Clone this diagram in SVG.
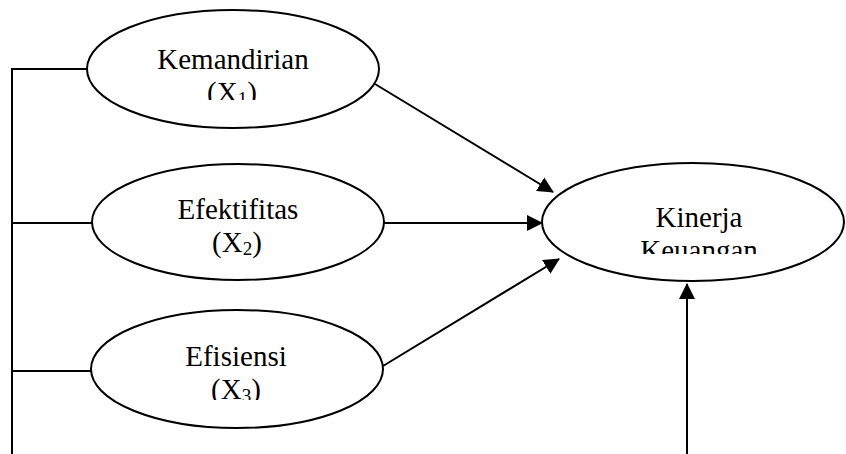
<svg xmlns="http://www.w3.org/2000/svg" width="846" height="454" viewBox="0 0 846 454">
  <style>
    .node ellipse { fill: #fff; stroke: #000; stroke-width: 2; }
    .lbl { font-family: "Liberation Serif", "Times New Roman", serif; font-size: 29px; fill: #000; text-anchor: middle; }
    .sub { font-size: 19px; }
    .wire { fill: none; stroke: #000; stroke-width: 2; }
    .arrow { marker-end: url(#head); }
  </style>
  <defs>
    <marker id="head" markerWidth="16" markerHeight="16" viewBox="0 0 16 16" refX="15" refY="8" orient="auto" markerUnits="userSpaceOnUse">
      <path d="M0,0 L16,8 L0,16 Z" fill="#000"/>
    </marker>
    <clipPath id="clipX1"><rect x="0" y="0" width="846" height="100"/></clipPath>
    <clipPath id="clipX3"><rect x="0" y="300" width="846" height="100"/></clipPath>
    <clipPath id="clipY"><rect x="500" y="150" width="346" height="104"/></clipPath>
  </defs>

  <g id="connectors">
    <path class="wire" d="M12,454 L12,69 L87,69"/>
    <path class="wire" d="M12,223 L92,223"/>
    <path class="wire" d="M12,371 L91,371"/>
    <line class="wire arrow" x1="375" y1="84" x2="553" y2="192"/>
    <line class="wire arrow" x1="384" y1="223" x2="542" y2="223"/>
    <line class="wire arrow" x1="383" y1="366" x2="559" y2="259"/>
    <line class="wire arrow" x1="687" y1="454" x2="687" y2="284"/>
  </g>

  <g id="kemandirian" class="node">
    <ellipse cx="233" cy="69" rx="146" ry="59"/>
    <text class="lbl" x="233" y="69">Kemandirian</text>
    <text class="lbl" x="232" y="102" clip-path="url(#clipX1)">(X<tspan class="sub" dy="3">1</tspan><tspan dy="-3">)</tspan></text>
  </g>

  <g id="efektifitas" class="node">
    <ellipse cx="238" cy="222" rx="146" ry="58"/>
    <text class="lbl" x="238" y="219">Efektifitas</text>
    <text class="lbl" x="237" y="252">(X<tspan class="sub" dy="3">2</tspan><tspan dy="-3">)</tspan></text>
  </g>

  <g id="efisiensi" class="node">
    <ellipse cx="237" cy="369" rx="146" ry="59"/>
    <text class="lbl" x="236" y="366">Efisiensi</text>
    <text class="lbl" x="236" y="399" clip-path="url(#clipX3)">(X<tspan class="sub" dy="3">3</tspan><tspan dy="-3">)</tspan></text>
  </g>

  <g id="kinerja-keuangan" class="node">
    <ellipse cx="693" cy="222" rx="151" ry="59"/>
    <text class="lbl" x="699" y="227">Kinerja</text>
    <text class="lbl" x="699" y="260" clip-path="url(#clipY)">Keuangan</text>
  </g>
</svg>
